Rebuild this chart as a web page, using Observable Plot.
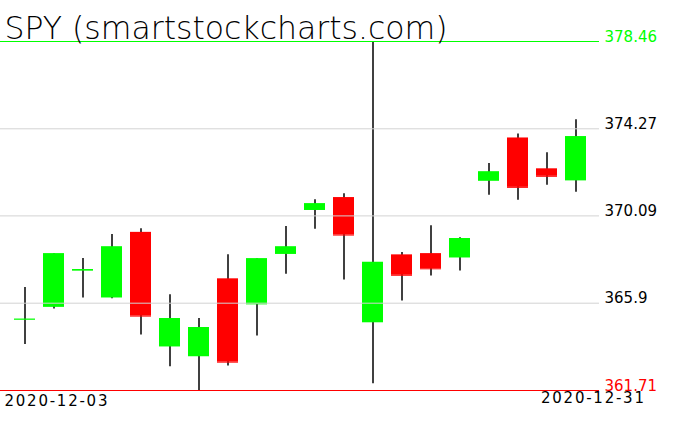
<!DOCTYPE html>
<html><head><meta charset="utf-8">
<script src="https://cdn.jsdelivr.net/npm/d3@7"></script>
<script src="https://cdn.jsdelivr.net/npm/@observablehq/plot@0.6"></script>
<style>html,body{margin:0;padding:0;background:#fff;} svg{display:block}</style>
</head><body><div id="chart"></div>
<script>
const title = "SPY (smartstockcharts.com)";
const dates = ["2020-12-03","2020-12-04","2020-12-07","2020-12-08","2020-12-09","2020-12-10","2020-12-11","2020-12-14","2020-12-15","2020-12-16","2020-12-17","2020-12-18","2020-12-21","2020-12-22","2020-12-23","2020-12-24","2020-12-28","2020-12-29","2020-12-30","2020-12-31"];
const open  = [365.11,365.70,367.44,366.15,369.30,363.80,363.33,367.07,365.82,368.24,370.35,370.97,364.96,368.22,368.28,368.07,371.75,373.83,372.35,371.77];
const high  = [366.65,368.27,368.04,369.20,369.47,366.30,365.17,368.23,368.03,369.58,370.87,371.15,378.46,368.33,369.62,369.04,372.60,374.02,373.12,374.70];
const low   = [363.92,365.62,366.15,366.11,364.37,362.85,361.71,362.89,364.33,367.29,369.45,367.01,362.03,366.01,367.21,367.44,371.08,370.84,371.56,371.23];
const close = [365.13,368.27,367.51,368.60,365.28,365.16,364.73,363.07,368.03,368.60,370.67,369.17,367.86,367.24,367.55,369.00,372.20,371.46,371.99,373.89];
const tickValues = [361.71, 365.9, 370.09, 374.27, 378.46];
const tickLabels = ["361.71","365.9","370.09","374.27","378.46"];
const firstLabel = "2020-12-03";
const lastLabel = "2020-12-31";

const candles = dates.map((d, i) => ({date: d, open: open[i], high: high[i], low: low[i], close: close[i]}));
const n = tickValues.length;
const ticks = tickValues.map((v, i) => ({value: v, label: tickLabels[i]}));
const lowTick = ticks.slice(0, 1), highTick = ticks.slice(n - 1), midTicks = ticks.slice(1, n - 1);
const GREEN = "#00ff00", RED = "#ff0000", GRID = "#d3d3d3";
const upCandles = candles.filter(d => d.close >= d.open);
const downCandles = candles.filter(d => d.close < d.open);
const lo = d => Math.min(d.open, d.close), hi = d => Math.max(d.open, d.close);
const labelOpts = {y: "value", text: "label", frameAnchor: "right", textAnchor: "start", lineAnchor: "bottom", dx: 5};

const chart = Plot.plot({
  width: 676, height: 431,
  marginTop: 0, marginLeft: 0, marginRight: 77, marginBottom: 0,
  style: {fontFamily: "DejaVu Sans", fontSize: "15px", background: "#fff", overflow: "visible"},
  x: {type: "band", domain: dates, range: [1.5, 599], padding: 0.287, axis: null},
  y: {domain: [tickValues[0], tickValues[n - 1]], range: [390, 41], axis: null},
  marks: [
    Plot.ruleX(candles, {x: "date", y1: "low", y2: "high", stroke: "#000", strokeWidth: 1.5}),
    Plot.barY(upCandles, {x: "date", y1: lo, y2: hi, fill: GREEN}),
    Plot.barY(downCandles, {x: "date", y1: lo, y2: hi, fill: RED}),
    Plot.tickY(upCandles, {x: "date", y: "close", stroke: GREEN, strokeWidth: 1}),
    Plot.tickY(downCandles, {x: "date", y: "close", stroke: RED, strokeWidth: 1}),
    Plot.ruleY(midTicks, {y: "value", stroke: GRID, strokeWidth: 1}),
    Plot.ruleY(highTick, {y: "value", stroke: GREEN, strokeWidth: 1}),
    Plot.ruleY(lowTick, {y: "value", stroke: RED, strokeWidth: 1}),
    Plot.text(midTicks, {...labelOpts, fill: "#000"}),
    Plot.text(highTick, {...labelOpts, fill: GREEN}),
    Plot.text(lowTick, {...labelOpts, fill: RED}),
    Plot.text([firstLabel], {text: d => d, frameAnchor: "bottom-left", textAnchor: "start", lineAnchor: "bottom", dx: 4, dy: -25.5, fill: "#000"}),
    Plot.text([lastLabel], {text: d => d, frameAnchor: "bottom-right", textAnchor: "start", lineAnchor: "bottom", dx: -58.5, dy: -29, fill: "#000"}),
    Plot.text([title], {text: d => d, frameAnchor: "top-left", textAnchor: "start", lineAnchor: "bottom", dx: 4, dy: 38, fontSize: 31.5, fontWeight: 200, fill: "#000"})
  ]
});
d3.select(chart).selectAll("text").filter(function() { return /^\d{4}-\d{2}-\d{2}$/.test(this.textContent); }).attr("letter-spacing", "1.75");
document.getElementById("chart").appendChild(chart);
</script>
</body></html>
